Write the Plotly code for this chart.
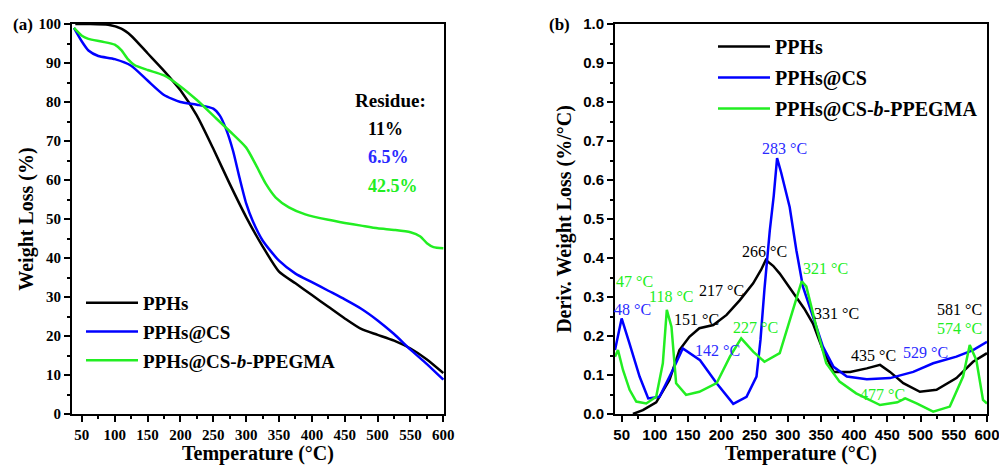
import plotly.graph_objects as go

# ---------------- Data (a): TGA ----------------
tga_T_pphs = [40, 60, 90, 110, 125, 150, 175, 200, 225, 250, 275, 300, 325, 350, 375, 400, 425, 450, 475, 500, 525, 550, 575, 600]
tga_W_pphs = [100, 100, 99.8, 98.8, 97, 92.5, 88, 83, 76.5, 68, 59, 50.5, 43, 36.5, 33.5, 30.5, 27.5, 24.5, 21.8, 20.3, 18.8, 16.8, 14, 10.5]

tga_T_cs = [38, 50, 60, 75, 100, 125, 150, 175, 200, 225, 250, 260, 270, 280, 290, 300, 310, 325, 350, 375, 400, 425, 450, 475, 500, 525, 550, 575, 600]
tga_W_cs = [99, 95.5, 93.2, 91.8, 91, 89.3, 85.5, 81.8, 80, 79.3, 78.3, 76.5, 72.8, 67.5, 60.5, 54, 49.5, 44.5, 39.3, 36, 33.8, 31.6, 29.4, 27, 24, 20.5, 16.5, 12.8, 8.8]

tga_T_peg = [38, 50, 60, 80, 100, 110, 120, 130, 150, 175, 200, 225, 250, 275, 300, 315, 330, 345, 365, 390, 425, 450, 475, 500, 525, 550, 565, 575, 585, 600]
tga_W_peg = [99, 97, 96.2, 95.5, 94.7, 93.3, 91, 89.5, 88.2, 86.8, 84, 80.5, 76.5, 72.5, 68.3, 63.8, 59, 55.5, 53, 51.2, 49.8, 49, 48.3, 47.6, 47.2, 46.6, 45.5, 43.8, 42.8, 42.5]

# ---------------- Data (b): DTG ----------------
dtg_T_pphs = [67, 82, 102, 122, 137, 152, 167, 188, 208, 228, 248, 260, 267, 278, 288, 308, 325, 338, 353, 369, 394, 419, 439, 454, 474, 499, 524, 554, 579, 600]
dtg_D_pphs = [0, 0.01, 0.03, 0.087, 0.164, 0.198, 0.22, 0.228, 0.254, 0.292, 0.335, 0.37, 0.395, 0.38, 0.36, 0.31, 0.27, 0.232, 0.164, 0.108, 0.108, 0.117, 0.126, 0.108, 0.079, 0.057, 0.062, 0.092, 0.134, 0.156]

dtg_T_cs = [40, 50, 62, 77, 90, 107, 127, 142, 168, 193, 218, 238, 253, 259, 265, 273, 279, 284, 290, 303, 313, 323, 338, 353, 369, 389, 419, 454, 489, 519, 554, 579, 600]
dtg_D_cs = [0.164, 0.245, 0.18, 0.096, 0.04, 0.044, 0.113, 0.168, 0.138, 0.079, 0.026, 0.044, 0.096, 0.19, 0.32, 0.47, 0.56, 0.656, 0.62, 0.53, 0.42, 0.326, 0.25, 0.173, 0.121, 0.096, 0.089, 0.092, 0.108, 0.13, 0.147, 0.164, 0.185]

dtg_T_peg = [40, 44.5, 52, 62, 72, 87, 102, 112, 118, 125, 132, 147, 167, 193, 213, 230, 248, 265, 288, 303, 321, 328, 343, 358, 378, 403, 439, 465, 477, 494, 519, 544, 564, 574, 584, 594, 600]
dtg_D_peg = [0.147, 0.164, 0.113, 0.062, 0.032, 0.027, 0.044, 0.13, 0.267, 0.224, 0.079, 0.049, 0.057, 0.079, 0.147, 0.194, 0.16, 0.134, 0.156, 0.241, 0.34, 0.327, 0.224, 0.13, 0.083, 0.053, 0.023, 0.03, 0.04, 0.027, 0.006, 0.019, 0.096, 0.177, 0.138, 0.036, 0.027]

series_names = ["PPHs", "PPHs@CS", "PPHs@CS-<i>b</i>-PPEGMA"]
series_colors = ["#000000", "#0000ff", "#22ee22"]
text_colors = ["#000000", "#2a2aff", "#22ee22"]

residue_labels = ["11%", "6.5%", "42.5%"]

peak_labels = ["283 °C", "266 °C", "321 °C", "217 °C", "47 °C", "118 °C", "48 °C", "151 °C",
               "227 °C", "142 °C", "331 °C", "435 °C", "529 °C", "477 °C", "581 °C", "574 °C"]
peak_series = [1, 0, 2, 0, 2, 2, 1, 0, 2, 1, 0, 0, 1, 2, 0, 2]
peak_label_x = [295, 265, 357, 200, 70, 125, 67, 162.5, 252, 195, 373.5, 429, 508, 443, 559, 559]
peak_label_y = [0.681, 0.416, 0.374, 0.316, 0.339, 0.301, 0.267, 0.243, 0.222, 0.164, 0.258, 0.151, 0.157, 0.051, 0.267, 0.218]

SERIF = "Liberation Serif"
SANS = "Liberation Sans"

W, H = 999, 465


def fx(px):
    return px / W


def fy(py):
    return 1 - py / H


fig = go.Figure()

tga = [(tga_T_pphs, tga_W_pphs), (tga_T_cs, tga_W_cs), (tga_T_peg, tga_W_peg)]
dtg = [(dtg_T_pphs, dtg_D_pphs), (dtg_T_cs, dtg_D_cs), (dtg_T_peg, dtg_D_peg)]

for i, (t, w) in enumerate(tga):
    fig.add_trace(go.Scatter(x=t, y=w, mode="lines", name=series_names[i],
                             line=dict(color=series_colors[i], width=2.5, shape="spline", smoothing=0.6),
                             xaxis="x", yaxis="y", legend="legend", legendgroup="a%d" % i))
for i, (t, d) in enumerate(dtg):
    fig.add_trace(go.Scatter(x=t, y=d, mode="lines", name=series_names[i],
                             line=dict(color=series_colors[i], width=2.5),
                             xaxis="x2", yaxis="y2", legend="legend2", legendgroup="b%d" % i))

tickfont_a = dict(family=SERIF, size=15, color="#000", weight="bold")
tickfont_b = dict(family=SANS, size=15, color="#000", weight="bold")
titlefont = dict(family=SERIF, size=20, color="#000", weight="bold")

common_axis = dict(showline=True, linewidth=2, linecolor="#000", mirror=True,
                   ticks="outside", ticklen=6, tickwidth=2, tickcolor="#000",
                   showgrid=False, zeroline=False, automargin=False,
                   ticklabeloverflow="allow")
minor_common = dict(ticklen=3, tickwidth=2, tickcolor="#000", ticks="outside")

fig.update_layout(
    width=W, height=H,
    margin=dict(l=0, r=0, t=0, b=0),
    paper_bgcolor="white", plot_bgcolor="white",
    xaxis=dict(domain=[fx(72), fx(444)], range=[35, 601], anchor="y",
               tickmode="linear", tick0=50, dtick=50, tickfont=tickfont_a,
               minor=dict(dtick=25, **minor_common),
               title=dict(text="Temperature (°C)", font=titlefont, standoff=16),
               **common_axis),
    yaxis=dict(domain=[fy(414), fy(24)], range=[0, 100], anchor="x",
               tickmode="linear", tick0=0, dtick=10, tickfont=tickfont_a,
               minor=dict(dtick=5, **minor_common),
               title=dict(text="Weight Loss (%)", font=titlefont, standoff=0),
               **common_axis),
    xaxis2=dict(domain=[fx(615), fx(987)], range=[40, 600], anchor="y2",
                tickmode="linear", tick0=50, dtick=50, tickfont=tickfont_b,
                minor=dict(dtick=25, **minor_common),
                title=dict(text="Temperature (°C)", font=titlefont, standoff=0),
                **common_axis),
    yaxis2=dict(domain=[fy(414), fy(24)], range=[0, 1.0], anchor="x2",
                tickmode="linear", tick0=0, dtick=0.1, tickformat=".1f", tickfont=tickfont_b,
                minor=dict(dtick=0.05, **minor_common),
                title=dict(text="Deriv. Weight Loss (%/°C)", font=titlefont, standoff=6),
                **common_axis),
    legend=dict(x=fx(81), y=fy(284), xanchor="left", yanchor="top",
                bgcolor="rgba(0,0,0,0)", font=dict(family=SERIF, size=19, color="#000", weight="bold"),
                itemwidth=52, tracegroupgap=1),
    legend2=dict(x=fx(713), y=fy(27), xanchor="left", yanchor="top",
                 bgcolor="rgba(0,0,0,0)", font=dict(family=SERIF, size=20, color="#000", weight="bold"),
                 itemwidth=52, tracegroupgap=2),
    showlegend=True,
)

annotations = []
# panel labels
annotations.append(dict(text="(a)", xref="paper", yref="paper", x=fx(23), y=fy(24),
                        xanchor="center", yanchor="middle",
                        showarrow=False, font=dict(family=SERIF, size=17, color="#000", weight="bold")))
annotations.append(dict(text="(b)", xref="paper", yref="paper", x=fx(559), y=fy(24),
                        xanchor="center", yanchor="middle",
                        showarrow=False, font=dict(family=SERIF, size=17, color="#000", weight="bold")))
# residue
annotations.append(dict(text="Residue:", xref="x", yref="y", x=462, y=80.5, xanchor="left",
                        showarrow=False, font=dict(family=SERIF, size=19, color="#000", weight="bold")))
residue_y = [73.1, 65.9, 58.5]
for i, lab in enumerate(residue_labels):
    annotations.append(dict(text=lab, xref="x", yref="y", x=483, y=residue_y[i], xanchor="left",
                            showarrow=False, font=dict(family=SERIF, size=18, color=text_colors[i], weight="bold")))
# peak labels
for lab, s, px, py in zip(peak_labels, peak_series, peak_label_x, peak_label_y):
    annotations.append(dict(text=lab, xref="x2", yref="y2", x=px, y=py, showarrow=False,
                            font=dict(family=SERIF, size=16, color=text_colors[s])))
fig.update_layout(annotations=annotations)

fig.write_html("out.html", config={"displayModeBar": False},
               post_script="document.body.style.margin='0';document.body.style.overflow='hidden';")
